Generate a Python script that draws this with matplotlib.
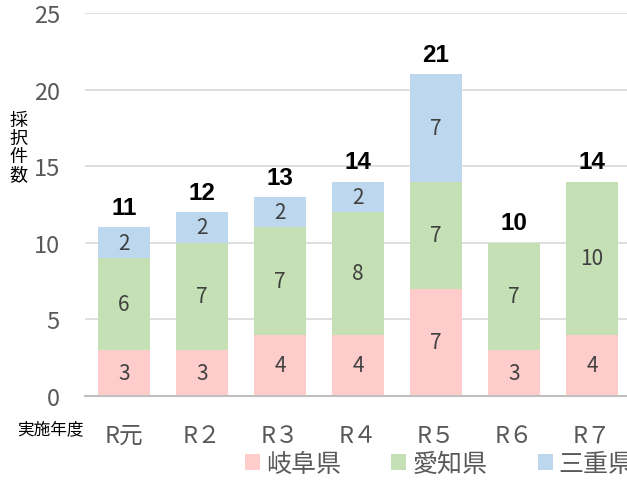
import matplotlib.pyplot as plt
import numpy as np

plt.rcParams['font.family'] = ['Noto Sans CJK JP', 'DejaVu Sans']

years = ['R元', 'R２', 'R３', 'R４', 'R５', 'R６', 'R７']
gifu = [3, 3, 4, 4, 7, 3, 4]
aichi = [6, 7, 7, 8, 7, 7, 10]
mie = [2, 2, 2, 2, 7, 0, 0]
series = ['岐阜県', '愛知県', '三重県']
colors = ['#FFCCCC', '#C5E0B4', '#BDD7EE']

fig = plt.figure(figsize=(6.27, 4.81), dpi=100)
ax = fig.add_axes([85 / 627, 1 - 397 / 481, 546 / 627, 383 / 481])

x = np.arange(len(years))
bottom = np.zeros(len(years))
for name, vals, col in zip(series, [gifu, aichi, mie], colors):
    vals = np.array(vals)
    ax.bar(x, vals, 0.667, bottom=bottom, color=col, label=name, zorder=2)
    for xi, b, v in zip(x, bottom, vals):
        if v > 0:
            ax.text(xi, b + v / 2, str(v), ha='center', va='center',
                    fontsize=15, color='#404040', zorder=3)
    bottom = bottom + vals

# totals above each bar
for xi, t in zip(x, bottom):
    ax.annotate(str(int(t)), (xi, t), xytext=(0, 6), textcoords='offset points',
                ha='center', va='bottom', fontsize=17.5, fontweight='bold',
                family='Liberation Sans', color='black')

ax.set_xlim(-0.5, 6.5)
ax.set_ylim(0, 25)
ax.set_yticks(range(0, 26, 5))
ax.yaxis.grid(True, color='#D9D9D9', linewidth=1.2, zorder=0)
for s in ['top', 'right', 'left']:
    ax.spines[s].set_visible(False)
ax.spines['bottom'].set_color('#BFBFBF')
ax.spines['bottom'].set_linewidth(1.5)
ax.tick_params(axis='both', length=0, labelcolor='#595959')
ax.tick_params(axis='y', pad=18, labelsize=17)
ax.tick_params(axis='x', pad=20)
ax.set_xticks(x)
ax.set_xticklabels(years, fontsize=17)

fig.text(18 / 627, 1 - 148 / 481, '採\n択\n件\n数', fontsize=13, ha='center',
         va='center', linespacing=1.0)
fig.text(50 / 627, 1 - 430 / 481, '実施年度', fontsize=12, ha='center', va='center')

ax.legend(loc='center left', bbox_to_anchor=(245 / 627, 1 - 465 / 481),
          bbox_transform=fig.transFigure, ncol=3, frameon=False, fontsize=18,
          labelcolor='#595959', handlelength=0.6, handleheight=0.6,
          handletextpad=0.25, columnspacing=2.0, borderaxespad=0, borderpad=0)

fig.savefig('out.png', dpi=100)
